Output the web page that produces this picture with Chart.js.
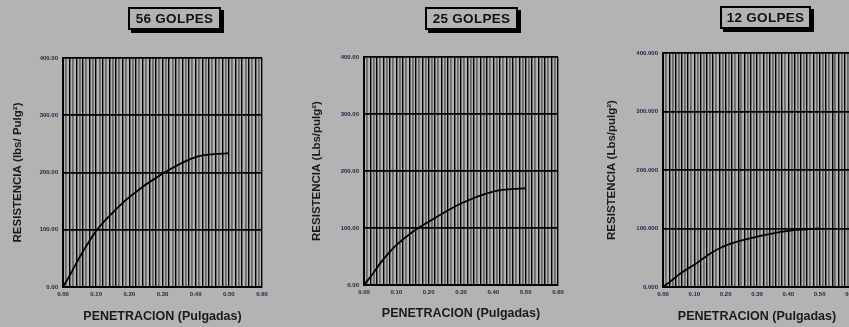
<!DOCTYPE html>
<html>
<head>
<meta charset="utf-8">
<script src="https://cdn.jsdelivr.net/npm/chart.js@4.4.1/dist/chart.umd.min.js"></script>
<style>
  html,body{margin:0;padding:0;background:#b3b3b3;width:849px;height:327px;overflow:hidden;}
  .wrap{position:absolute;top:0;width:290px;height:327px;}
  .wrap canvas{position:absolute;left:0;top:0;}
  .tbox{position:absolute;height:19px;border:2px solid #000;background:#b3b3b3;
        box-shadow:3px 3px 0 #000;font:bold 13.5px "Liberation Sans",Arial,sans-serif;
        color:#111;text-align:center;line-height:19px;letter-spacing:0.3px;}
</style>
</head>
<body>
<div class="wrap" style="left:0px"><canvas id="c1" width="290" height="327"></canvas></div>
<div class="wrap" style="left:290px"><canvas id="c2" width="290" height="327"></canvas></div>
<div class="wrap" style="left:580px"><canvas id="c3" width="290" height="327"></canvas></div>
<div class="tbox" style="left:128px;top:7px;width:89px">56 GOLPES</div>
<div class="tbox" style="left:425px;top:7px;width:89px">25 GOLPES</div>
<div class="tbox" style="left:720px;top:6px;width:87px">12 GOLPES</div>
<script>
// ---- data ----
const penetracion = [0, 0.025, 0.05, 0.075, 0.1, 0.15, 0.2, 0.3, 0.4, 0.5];
const resistencia56 = [0, 25, 52, 76, 98, 130, 157, 198, 227, 234];
const resistencia25 = [0, 18, 38, 55, 70, 93, 111, 143, 164, 170];
const resistencia12 = [0, 10, 21, 30, 38, 57, 71, 86, 96, 100];
const chartTitles = ['56 GOLPES', '25 GOLPES', '12 GOLPES'];
const xTickLabels = ['0.00', '0.10', '0.20', '0.30', '0.40', '0.50', '0.60'];
const yTickLabels2 = ['0.00', '100.00', '200.00', '300.00', '400.00'];
const yTickLabels3 = ['0.000', '100.000', '200.000', '300.000', '400.000'];
const xTitle = 'PENETRACION (Pulgadas)';
const yTitles = ['RESISTENCIA (lbs/ Pulg\u00B2)', 'RESISTENCIA (Lbs/pulg\u00B2)', 'RESISTENCIA (Lbs/pulg\u00B2)'];

const FONT = '"Liberation Sans", Arial, sans-serif';
const TICKCOL = '#24244a';

function makeChart(id, values, yTitle, yLabels, lay) {
  const pts = penetracion.map((x, i) => ({x: x, y: values[i]}));
  return new Chart(document.getElementById(id), {
    type: 'line',
    data: { datasets: [{ data: pts, borderColor: '#000', borderWidth: 1.8,
      pointRadius: 0, fill: false, cubicInterpolationMode: 'monotone' }] },
    options: {
      responsive: false, animation: false,
      layout: { padding: { left: 0, top: lay.top, right: lay.right, bottom: 0 } },
      plugins: { legend: { display: false }, tooltip: { enabled: false } },
      scales: {
        x: {
          type: 'linear', min: 0, max: 0.6,
          afterFit: s => { s.height = lay.xh; },
          afterBuildTicks: s => {
            const t = [];
            for (let i = 0; i <= 60; i++) t.push({ value: i / 100 });
            s.ticks = t;
          },
          border: { display: true, color: '#000', width: 2 },
          grid: {
            drawTicks: false,
            color: c => (c.index % 2 === 0 ? '#000' : '#6a6a6a'),
            lineWidth: c => (c.index % 2 === 0 ? 1.4 : 1.8)
          },
          ticks: {
            autoSkip: false, maxRotation: 0, padding: 4, color: TICKCOL,
            font: { family: FONT, size: 6, weight: 'bold' },
            callback: (v, i) => (i % 10 === 0 ? xTickLabels[i / 10] : '')
          },
          title: { display: true, text: xTitle, color: '#1a1a1a',
            font: { family: FONT, size: 12.5, weight: 'bold', lineHeight: 1.2 },
            padding: { top: 0, bottom: lay.xtp } }
        },
        y: {
          type: 'linear', min: 0, max: 400,
          afterFit: s => { s.width = lay.left; },
          border: { display: true, color: '#000', width: 2 },
          grid: { drawTicks: false, color: '#000', lineWidth: 1.7 },
          ticks: { stepSize: 100, padding: 5, color: TICKCOL,
            font: { family: FONT, size: 6, weight: 'bold' },
            callback: (v, i) => yLabels[i] },
          title: { display: true, text: yTitle, color: '#1a1a1a',
            font: { family: FONT, size: 11.5, weight: 'bold', lineHeight: 1.2 },
            padding: { top: lay.ytp, bottom: 0 } }
        }
      }
    }
  });
}

makeChart('c1', resistencia56, yTitles[0], yTickLabels2, { top: 58, right: 28, left: 63, xh: 40, xtp: 3, ytp: 11 });
makeChart('c2', resistencia25, yTitles[1], yTickLabels2, { top: 57, right: 22, left: 74, xh: 42, xtp: 6, ytp: 20 });
makeChart('c3', resistencia12, yTitles[2], yTickLabels3, { top: 53, right: 19, left: 83, xh: 40, xtp: 3, ytp: 25 });
</script>
</body>
</html>
